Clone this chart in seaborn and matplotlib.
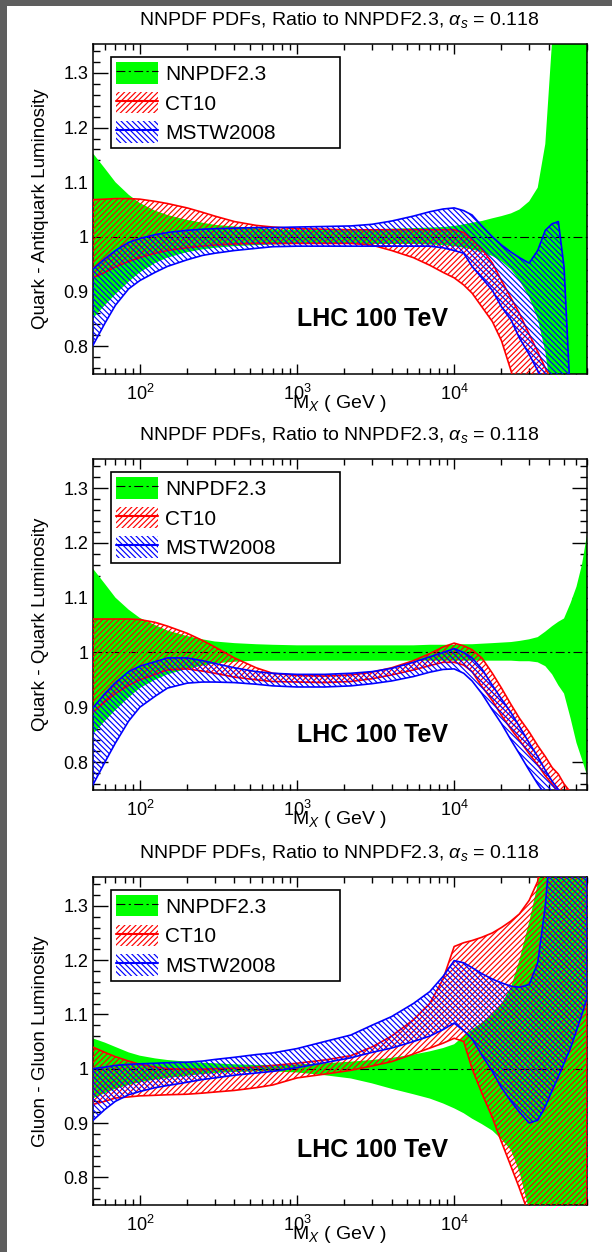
import numpy as np
import matplotlib
matplotlib.use("Agg")
import matplotlib.pyplot as plt
import seaborn as sns
from matplotlib.patches import Patch, Rectangle
from matplotlib.lines import Line2D
from matplotlib.ticker import LogLocator, MultipleLocator, NullFormatter, FuncFormatter

# Invariant mass grid (GeV)
mx = [50, 60, 70, 85, 100, 125, 150, 200, 250, 300, 400, 550, 700, 1000, 1500,
      2200, 3000, 4000, 5500, 7000, 8500, 10000, 11500, 13000, 15000, 17500,
      20000, 23000, 26000, 30000, 34000, 38000, 42000, 46000, 50000, 55000,
      60000, 65000, 70000]

# NNPDF2.3 central value (ratio to itself)
nnpdf_central = [1.0] * len(mx)

# ---- quark - antiquark luminosity ----
qqbar_nnpdf_hi = [1.154, 1.125, 1.100, 1.077, 1.062, 1.048, 1.040, 1.031, 1.026, 1.022,
                  1.019, 1.016, 1.014, 1.013, 1.013, 1.013, 1.014, 1.015, 1.016, 1.017,
                  1.018, 1.020, 1.023, 1.026, 1.029, 1.034, 1.038, 1.043, 1.050, 1.065,
                  1.090, 1.170, 1.360, 1.450, 1.450, 1.450, 1.450, 1.450, 1.450]
qqbar_nnpdf_lo = [0.850, 0.875, 0.895, 0.918, 0.935, 0.952, 0.962, 0.972, 0.977, 0.980,
                  0.983, 0.985, 0.986, 0.987, 0.987, 0.987, 0.987, 0.987, 0.987, 0.986,
                  0.985, 0.983, 0.980, 0.977, 0.972, 0.965, 0.955, 0.940, 0.920, 0.890,
                  0.850, 0.790, 0.700, 0.700, 0.700, 0.700, 0.700, 0.700, 0.700]
qqbar_ct10_hi = [1.068, 1.069, 1.070, 1.070, 1.069, 1.065, 1.061, 1.053, 1.045, 1.038,
                 1.028, 1.021, 1.018, 1.015, 1.014, 1.013, 1.013, 1.013, 1.013, 1.013,
                 1.013, 1.013, 1.008, 0.995, 0.978, 0.952, 0.920, 0.888, 0.860, 0.822,
                 0.790, 0.760, 0.735, 0.710, 0.700, 0.700, 0.700, 0.700, 0.700]
qqbar_ct10_lo = [0.925, 0.935, 0.945, 0.955, 0.962, 0.970, 0.975, 0.980, 0.983, 0.985,
                 0.987, 0.988, 0.988, 0.988, 0.988, 0.988, 0.985, 0.975, 0.962, 0.948,
                 0.935, 0.925, 0.912, 0.897, 0.872, 0.845, 0.810, 0.755, 0.700, 0.700,
                 0.700, 0.700, 0.700, 0.700, 0.700, 0.700, 0.700, 0.700, 0.700]
qqbar_mstw_hi = [0.940, 0.960, 0.975, 0.990, 0.997, 1.004, 1.008, 1.012, 1.014, 1.015,
                 1.016, 1.017, 1.017, 1.018, 1.019, 1.020, 1.023, 1.029, 1.038, 1.046,
                 1.051, 1.053, 1.048, 1.040, 1.020, 1.000, 0.985, 0.972, 0.962, 0.952,
                 0.975, 1.012, 1.024, 1.028, 0.945, 0.700, 0.700, 0.700, 0.700]
qqbar_mstw_lo = [0.800, 0.842, 0.875, 0.905, 0.920, 0.935, 0.946, 0.958, 0.966, 0.970,
                 0.975, 0.979, 0.982, 0.983, 0.983, 0.983, 0.983, 0.983, 0.983, 0.983,
                 0.980, 0.975, 0.970, 0.946, 0.925, 0.902, 0.872, 0.848, 0.815, 0.785,
                 0.755, 0.720, 0.700, 0.700, 0.700, 0.700, 0.700, 0.700, 0.700]

# ---- quark - quark luminosity ----
qq_nnpdf_hi = [1.154, 1.125, 1.100, 1.078, 1.063, 1.050, 1.040, 1.030, 1.024, 1.020,
               1.017, 1.015, 1.014, 1.013, 1.013, 1.013, 1.013, 1.013, 1.013, 1.014,
               1.014, 1.014, 1.015, 1.015, 1.016, 1.017, 1.018, 1.019, 1.021, 1.024,
               1.028, 1.038, 1.048, 1.056, 1.062, 1.090, 1.120, 1.160, 1.215]
qq_nnpdf_lo = [0.850, 0.875, 0.895, 0.918, 0.935, 0.950, 0.960, 0.970, 0.976, 0.980,
               0.983, 0.985, 0.985, 0.985, 0.985, 0.985, 0.985, 0.985, 0.985, 0.985,
               0.985, 0.985, 0.985, 0.985, 0.985, 0.985, 0.985, 0.985, 0.984, 0.984,
               0.982, 0.975, 0.960, 0.940, 0.925, 0.880, 0.835, 0.805, 0.776]
qq_ct10_hi = [1.061, 1.061, 1.061, 1.061, 1.060, 1.055, 1.048, 1.035, 1.022, 1.010,
              0.990, 0.972, 0.962, 0.958, 0.957, 0.959, 0.964, 0.972, 0.985, 0.998,
              1.010, 1.017, 1.012, 1.005, 0.990, 0.962, 0.935, 0.905, 0.880, 0.855,
              0.830, 0.810, 0.790, 0.778, 0.760, 0.745, 0.720, 0.700, 0.700]
qq_ct10_lo = [0.890, 0.910, 0.925, 0.940, 0.950, 0.960, 0.968, 0.970, 0.966, 0.962,
              0.955, 0.950, 0.947, 0.946, 0.945, 0.947, 0.952, 0.959, 0.968, 0.976,
              0.982, 0.982, 0.977, 0.965, 0.938, 0.912, 0.885, 0.860, 0.840, 0.815,
              0.795, 0.775, 0.760, 0.745, 0.700, 0.700, 0.700, 0.700, 0.700]
qq_mstw_hi = [0.898, 0.925, 0.945, 0.965, 0.975, 0.983, 0.990, 0.990, 0.985, 0.980,
              0.972, 0.965, 0.962, 0.960, 0.960, 0.962, 0.965, 0.971, 0.982, 0.992,
              1.000, 1.007, 1.000, 0.990, 0.970, 0.940, 0.915, 0.890, 0.865, 0.835,
              0.810, 0.785, 0.765, 0.750, 0.730, 0.700, 0.700, 0.700, 0.700]
qq_mstw_lo = [0.757, 0.800, 0.835, 0.875, 0.900, 0.920, 0.935, 0.944, 0.946, 0.946,
              0.945, 0.942, 0.939, 0.937, 0.937, 0.939, 0.943, 0.948, 0.956, 0.964,
              0.969, 0.970, 0.962, 0.948, 0.925, 0.895, 0.870, 0.840, 0.815, 0.785,
              0.760, 0.740, 0.700, 0.700, 0.700, 0.700, 0.700, 0.700, 0.700]

# ---- gluon - gluon luminosity ----
gg_nnpdf_hi = [1.056, 1.048, 1.040, 1.030, 1.024, 1.019, 1.016, 1.013, 1.011, 1.010,
               1.008, 1.007, 1.007, 1.008, 1.010, 1.013, 1.016, 1.020, 1.026, 1.032,
               1.038, 1.045, 1.060, 1.072, 1.085, 1.100, 1.120, 1.150, 1.200, 1.270,
               1.340, 1.450, 1.450, 1.450, 1.450, 1.450, 1.450, 1.450, 1.450]
gg_nnpdf_lo = [0.945, 0.955, 0.963, 0.970, 0.975, 0.980, 0.983, 0.987, 0.990, 0.992,
               0.994, 0.995, 0.995, 0.993, 0.988, 0.982, 0.973, 0.963, 0.953, 0.945,
               0.936, 0.927, 0.918, 0.908, 0.898, 0.886, 0.870, 0.850, 0.810, 0.740,
               0.700, 0.700, 0.700, 0.700, 0.700, 0.700, 0.700, 0.700, 0.700]
gg_ct10_hi = [1.040, 1.030, 1.022, 1.014, 1.008, 1.003, 1.000, 0.999, 0.999, 1.000,
              1.001, 1.003, 1.006, 1.010, 1.016, 1.024, 1.040, 1.060, 1.090, 1.120,
              1.165, 1.225, 1.232, 1.236, 1.242, 1.250, 1.260, 1.272, 1.285, 1.310,
              1.345, 1.450, 1.450, 1.450, 1.450, 1.450, 1.450, 1.450, 1.450]
gg_ct10_lo = [0.934, 0.940, 0.946, 0.948, 0.950, 0.951, 0.952, 0.953, 0.955, 0.957,
              0.960, 0.965, 0.970, 0.983, 0.990, 0.997, 1.005, 1.013, 1.027, 1.038,
              1.047, 1.056, 1.050, 1.000, 0.955, 0.910, 0.865, 0.820, 0.780, 0.730,
              0.700, 0.700, 0.700, 0.700, 0.700, 0.700, 0.700, 0.700, 0.700]
gg_mstw_hi = [1.000, 1.003, 1.006, 1.008, 1.009, 1.010, 1.011, 1.012, 1.014, 1.017,
              1.021, 1.026, 1.029, 1.037, 1.050, 1.062, 1.080, 1.096, 1.120, 1.142,
              1.170, 1.199, 1.195, 1.186, 1.175, 1.165, 1.158, 1.152, 1.150, 1.155,
              1.195, 1.300, 1.450, 1.450, 1.450, 1.450, 1.450, 1.450, 1.450]
gg_mstw_lo = [0.904, 0.925, 0.940, 0.952, 0.958, 0.965, 0.969, 0.975, 0.980, 0.983,
              0.988, 0.992, 0.995, 1.002, 1.011, 1.020, 1.030, 1.038, 1.050, 1.060,
              1.072, 1.084, 1.070, 1.055, 1.025, 0.995, 0.965, 0.940, 0.920, 0.900,
              0.905, 0.930, 0.960, 0.985, 1.010, 1.038, 1.070, 1.100, 1.130]

ylabels = ["Quark - Antiquark Luminosity", "Quark - Quark Luminosity",
           "Gluon - Gluon Luminosity"]
set_names = ["NNPDF2.3", "CT10", "MSTW2008"]
title_text = r"NNPDF PDFs, Ratio to NNPDF2.3, $\alpha_{s}$ = 0.118"
energy_text = "LHC 100 TeV"

panels = [
    (qqbar_nnpdf_lo, qqbar_nnpdf_hi, qqbar_ct10_lo, qqbar_ct10_hi, qqbar_mstw_lo, qqbar_mstw_hi),
    (qq_nnpdf_lo, qq_nnpdf_hi, qq_ct10_lo, qq_ct10_hi, qq_mstw_lo, qq_mstw_hi),
    (gg_nnpdf_lo, gg_nnpdf_hi, gg_ct10_lo, gg_ct10_hi, gg_mstw_lo, gg_mstw_hi),
]

GREEN, RED, BLUE = "#00ff00", "#ff0000", "#0000ff"
DASHDOT = (0, (8, 3, 2, 3))
RED_HATCH = "//////"
BLUE_HATCH = "\\\\\\\\\\\\"

sns.set_theme(style="ticks", rc={
    "axes.edgecolor": "black", "axes.linewidth": 1.1,
    "xtick.color": "black", "ytick.color": "black",
    "text.color": "black", "axes.labelcolor": "black",
    "hatch.linewidth": 0.85,
})
plt.rcParams["font.family"] = ["Liberation Sans", "DejaVu Sans"]
plt.rcParams["mathtext.fontset"] = "custom"
plt.rcParams["mathtext.rm"] = "Liberation Sans"
plt.rcParams["mathtext.it"] = "Liberation Sans:italic"
plt.rcParams["mathtext.bf"] = "Liberation Sans:bold"

W_PX, H_PX = 612, 1252
fig = plt.figure(figsize=(W_PX / 100, H_PX / 100), dpi=100, facecolor="#5e5e5e")
fig.patches.append(Rectangle((7 / W_PX, 0), 1, 1 - 6 / H_PX, transform=fig.transFigure,
                             facecolor="white", edgecolor="none", zorder=-10))

# axes frames in pixels: (top, bottom)
frames = [(44, 374), (459, 790), (877, 1205)]
left_px, right_px = 92.5, 587

for (top, bot), ylab, data in zip(frames, ylabels, panels):
    nn_lo, nn_hi, ct_lo, ct_hi, ms_lo, ms_hi = data
    ax = fig.add_axes([left_px / W_PX, 1 - bot / H_PX,
                       (right_px - left_px) / W_PX, (bot - top) / H_PX])
    ax.set_xscale("log")

    ax.fill_between(mx, nn_lo, nn_hi, facecolor=GREEN, edgecolor="none", zorder=1)
    sns.lineplot(x=mx, y=nnpdf_central, ax=ax, color="black", lw=0.8,
                 linestyle=DASHDOT, zorder=2)
    ax.fill_between(mx, ct_lo, ct_hi, facecolor="none", edgecolor=RED,
                    hatch=RED_HATCH, lw=1.2, zorder=3)
    ax.fill_between(mx, ms_lo, ms_hi, facecolor="none", edgecolor=BLUE,
                    hatch=BLUE_HATCH, lw=1.2, zorder=4)

    ax.set_xlim(50, 70000)
    ax.set_ylim(0.749, 1.353)

    ax.xaxis.set_major_locator(LogLocator(base=10, numticks=10))
    ax.xaxis.set_minor_locator(LogLocator(base=10, subs=np.arange(2, 10), numticks=20))
    ax.xaxis.set_minor_formatter(NullFormatter())
    ax.yaxis.set_major_locator(MultipleLocator(0.1))
    ax.yaxis.set_minor_locator(MultipleLocator(0.02))
    ax.yaxis.set_major_formatter(FuncFormatter(lambda v, p: f"{v:g}"))

    ax.tick_params(which="both", direction="in", top=True, right=True, width=1.0)
    ax.tick_params(axis="y", which="major", length=10.5, labelsize=13, pad=3)
    ax.tick_params(axis="y", which="minor", length=5)
    ax.tick_params(axis="x", which="major", length=7, labelsize=13, pad=7)
    ax.tick_params(axis="x", which="minor", length=4)

    ax.set_title(title_text, fontsize=14, pad=14)
    ax.set_xlabel(r"M$_{X}$ ( GeV )", fontsize=14)
    ax.xaxis.set_label_coords(0.5, -0.058)
    ax.set_ylabel(ylab, fontsize=13.5)
    ax.yaxis.set_label_coords(-0.088, 0.5)

    ax.text(0.4136, 0.1667, energy_text, transform=ax.transAxes, fontsize=18,
            fontweight="bold", ha="left", va="center")

    handles = [
        (Patch(facecolor=GREEN, edgecolor="none"),
         Line2D([], [], color="black", lw=0.8, linestyle=DASHDOT)),
        (Patch(facecolor="none", edgecolor=RED, hatch=RED_HATCH, lw=0),
         Line2D([], [], color=RED, lw=1.5)),
        (Patch(facecolor="none", edgecolor=BLUE, hatch=BLUE_HATCH, lw=0),
         Line2D([], [], color=BLUE, lw=1.5)),
    ]
    leg = ax.legend(handles, set_names, loc="upper left",
                    bbox_to_anchor=(0.0374, 0.658, 0.463, 0.3026), mode="expand",
                    borderaxespad=0, fontsize=15, handlelength=2.0, handleheight=1.2,
                    handletextpad=0.35, labelspacing=0.38, borderpad=0.25,
                    frameon=True, fancybox=False, edgecolor="black", framealpha=1)
    leg.get_frame().set_linewidth(1.2)
    leg.set_zorder(10)

fig.savefig("out.png", dpi=100, facecolor=fig.get_facecolor())
